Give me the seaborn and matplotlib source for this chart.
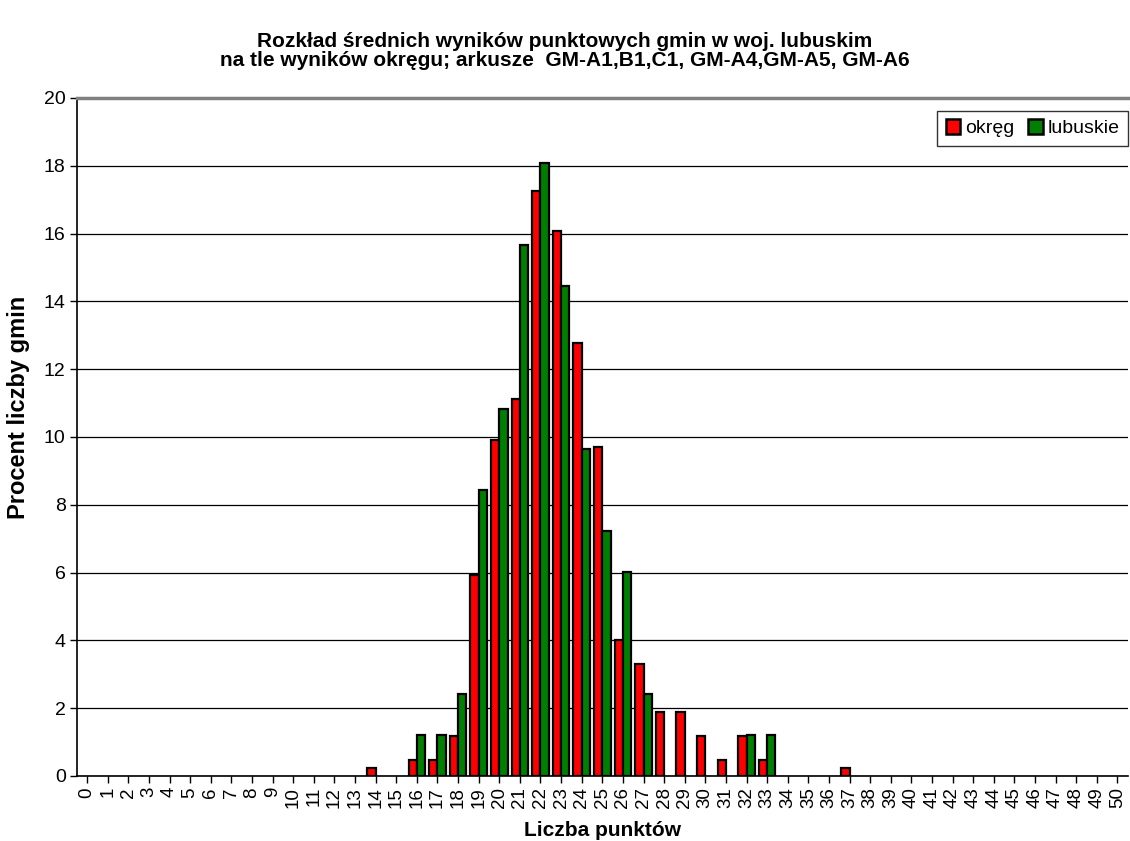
import matplotlib
matplotlib.use("Agg")
import matplotlib.pyplot as plt
import seaborn as sns
import pandas as pd
import numpy as np

points = list(range(0, 51))
okreg_nonzero = {14: 0.24, 16: 0.47, 17: 0.47, 18: 1.18, 19: 5.92, 20: 9.92, 21: 11.11,
                 22: 17.26, 23: 16.08, 24: 12.77, 25: 9.69, 26: 4.02, 27: 3.31, 28: 1.89,
                 29: 1.89, 30: 1.18, 31: 0.47, 32: 1.18, 33: 0.47, 37: 0.24}
lubuskie_nonzero = {16: 1.20, 17: 1.20, 18: 2.41, 19: 8.43, 20: 10.84, 21: 15.66, 22: 18.07,
                    23: 14.46, 24: 9.64, 25: 7.23, 26: 6.02, 27: 2.41, 32: 1.20, 33: 1.20}
okreg = [okreg_nonzero.get(p, 0.0) for p in points]
lubuskie = [lubuskie_nonzero.get(p, 0.0) for p in points]
series_names = ["okręg", "lubuskie"]
colors = ["#FF0000", "#008000"]
tick_labels = [str(p) for p in points]

df = pd.DataFrame({
    "pkt": tick_labels * 2,
    "val": okreg + lubuskie,
    "seria": [series_names[0]] * len(points) + [series_names[1]] * len(points),
})
df = df[df["val"] > 0]

sns.set_style("white")
plt.rcParams["font.family"] = ["Liberation Sans", "DejaVu Sans"]
plt.rcParams["text.color"] = "black"
plt.rcParams["axes.labelcolor"] = "black"
plt.rcParams["xtick.color"] = "black"
plt.rcParams["ytick.color"] = "black"

fig = plt.figure(figsize=(11.3, 8.41), dpi=100)
ax = fig.add_axes([0.068, 0.0773, 0.930, 0.8062])

sns.barplot(data=df, x="pkt", y="val", hue="seria", order=tick_labels,
            hue_order=series_names, palette=colors, saturation=1, width=0.8,
            edgecolor="black", linewidth=1.6, ax=ax, legend=True)

ax.set_ylim(0, 20)
ax.set_xlim(-0.5, 50.5)
ax.set_yticks(np.arange(0, 21, 2))
ax.yaxis.grid(True, color="black", linewidth=0.9)
ax.set_axisbelow(True)
ax.tick_params(axis="y", labelsize=14, length=5, width=1, direction="out", left=True,
               color="black", pad=3)
ax.tick_params(axis="x", labelsize=13.5, rotation=90, length=5, width=1, direction="out",
               bottom=True, color="black", pad=3)
for s in ["left", "bottom"]:
    ax.spines[s].set_color("black")
    ax.spines[s].set_linewidth(1.2)
ax.spines["top"].set_color("#808080")
ax.spines["top"].set_linewidth(2.5)
ax.spines["right"].set_visible(False)

ax.set_xlabel("Liczba punktów", fontsize=15, fontweight="bold", labelpad=9)
ax.set_ylabel("Procent liczby gmin", fontsize=17, fontweight="bold", labelpad=10)
ax.yaxis.label.set_y(0.543)

fig.suptitle("Rozkład średnich wyników punktowych gmin w woj. lubuskim\n"
             "na tle wyników okręgu; arkusze  GM-A1,B1,C1, GM-A4,GM-A5, GM-A6",
             fontsize=15, fontweight="bold", y=0.962, linespacing=1.0)

leg = ax.legend(loc="upper right", bbox_to_anchor=(1.006, 0.99), ncol=2, fontsize=14,
                frameon=True, fancybox=False, edgecolor="black", handlelength=0.75,
                handleheight=0.75, handletextpad=0.25, columnspacing=0.7, borderpad=0.45,
                borderaxespad=0.3)
leg.get_frame().set_linewidth(1)
for h in leg.legend_handles:
    h.set_edgecolor("black")
    h.set_linewidth(1.8)

fig.savefig("out.png", dpi=100)
